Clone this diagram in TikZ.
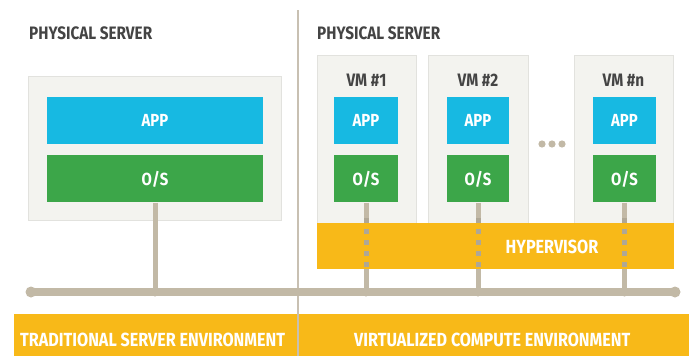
\documentclass[tikz,border=0pt]{standalone}
\usepackage{fontspec}
\newfontfamily\dinfont{Fira Sans}[FakeStretch=0.85]
\usetikzlibrary{positioning}

\definecolor{srvgray}{HTML}{F3F3EF}
\definecolor{appblue}{HTML}{17B9E2}
\definecolor{osgreen}{HTML}{3CA649}
\definecolor{hypyellow}{HTML}{F8B918}
\definecolor{busbrown}{HTML}{C2B9A6}
\definecolor{titlegray}{HTML}{444444}
\definecolor{divgray}{HTML}{C8C0B2}

\begin{document}
\begin{tikzpicture}[
		x=1pt,y=-1pt,
		node distance=11pt and 11pt,
		server/.style={fill=srvgray,draw=srvgray!93!black,line width=0.4pt,inner sep=0,anchor=north west},
		appbox/.style={fill=appblue,text=white,font=\dinfont\bfseries\fontsize{17.5}{17.5}\selectfont,minimum height=47,inner sep=0},
		osbox/.style={appbox,fill=osgreen},
		title/.style={text=titlegray,font=\dinfont\bfseries\fontsize{18}{18}\selectfont,anchor=west,inner sep=0},
		vmlabel/.style={title,anchor=center},
		bandtext/.style={text=white,font=\dinfont\bfseries\fontsize{19}{19}\selectfont,anchor=west,inner sep=0},
		stem/.style={busbrown,line width=5},
		bus/.style={busbrown,line width=8}
		]
		\useasboundingbox (0,0) rectangle (689,356);
		% bottom band
		\fill[hypyellow] (14,314) rectangle (689,356);
		\node[bandtext] (tradenv) at (20,340) {TRADITIONAL SERVER ENVIRONMENT};
		\node[bandtext] (virtenv) at (354,340) {VIRTUALIZED COMPUTE ENVIRONMENT};
		% divider
		\coordinate (divtop) at (298,10);
		\coordinate (divbot) at (298,356);
		\draw[divgray,line width=1.2] (divtop) -- (divbot);

		% traditional server
		\node[title] (title0) at (29,33) {PHYSICAL SERVER};
		\node[server,minimum width=253,minimum height=144] (srv0) at (28,76) {};
		\node[appbox,minimum width=216] (app0) at (155,120.5) {APP};
		\node[osbox,minimum width=216,below=of app0] (os0) {O/S};

		% virtualized server
		\node[title] (title1) at (317,33) {PHYSICAL SERVER};
		\node[server,minimum width=99,minimum height=168] (vm1) at (317,55) {};
		\node[server,minimum width=100,minimum height=168] (vm2) at (428,55) {};
		\node[server,minimum width=99,minimum height=168] (vm3) at (574,55) {};
		\node[vmlabel] (vml1) at (366.5,80) {VM \#1};
		\node[vmlabel] (vml2) at (478,80) {VM \#2};
		\node[vmlabel] (vml3) at (623.5,80) {VM \#n};
		\node[appbox,minimum width=64] (app1) at (366,120.5) {APP};
		\node[appbox,minimum width=62] (app2) at (478,120.5) {APP};
		\node[appbox,minimum width=63] (app3) at (624.5,120.5) {APP};
		\node[osbox,minimum width=64,below=of app1] (os1) {O/S};
		\node[osbox,minimum width=62,below=of app2] (os2) {O/S};
		\node[osbox,minimum width=63,below=of app3] (os3) {O/S};
		\fill[busbrown] (542,144) circle (3.6) (552,144) circle (3.6) (562,144) circle (3.6);
		\node[fill=hypyellow,inner sep=0,anchor=north west,minimum width=357,minimum height=46] (hyp) at (317,223) {};
		\node[bandtext,anchor=center] (hyplabel) at (552,247) {HYPERVISOR};

		% bus and stems
		\coordinate (busL) at (31,292);
		\coordinate (busR) at (675,292);
		\draw[bus] (busL) -- (busR);
		\fill[busbrown] (busL) circle (5.5) (busR) circle (5.5);
		\draw[stem] (os0.south) -- (os0.south |- busL);
		\fill[busbrown] (os0.south |- busL) circle (4.5);
		\draw[stem] (os1.south) -- (os1.south |- hyp.north);
		\draw[stem] (os2.south) -- (os2.south |- hyp.north);
		\draw[stem] (os3.south) -- (os3.south |- hyp.north);
		\draw[stem,busbrown!90!black,dash pattern=on 5 off 6] ([yshift=5]os1.south |- hyp.north) -- (os1.south |- hyp.south);
		\draw[stem,busbrown!90!black,dash pattern=on 5 off 6] ([yshift=5]os2.south |- hyp.north) -- (os2.south |- hyp.south);
		\draw[stem,busbrown!90!black,dash pattern=on 5 off 6] ([yshift=5]os3.south |- hyp.north) -- (os3.south |- hyp.south);
		\draw[stem] (os1.south |- hyp.south) -- (os1.south |- busL);
		\draw[stem] (os2.south |- hyp.south) -- (os2.south |- busL);
		\draw[stem] (os3.south |- hyp.south) -- (os3.south |- busL);
		\fill[busbrown] (os1.south |- busL) circle (4.5) (os2.south |- busL) circle (4.5) (os3.south |- busL) circle (4.5);
	\end{tikzpicture}
\end{document}
